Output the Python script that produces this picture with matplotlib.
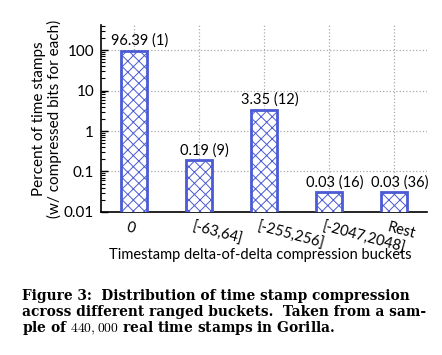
import numpy as np
import matplotlib
matplotlib.use('Agg')
import matplotlib.pyplot as plt
import matplotlib.transforms as mtransforms
from matplotlib.ticker import FixedLocator, FixedFormatter, LogLocator, NullFormatter

# data
buckets = ['0', '[-63,64]', '[-255,256]', '[-2047,2048]', 'Rest']
percent = [96.39, 0.19, 3.35, 0.03, 0.03]
bits = [1, 9, 12, 16, 36]
yticks = [0.01, 0.1, 1, 10, 100]
yticklabels = ['0.01', '0.1', '1', '10', '100']

plt.rcParams['font.family'] = ['Lato', 'DejaVu Sans']
plt.rcParams['mathtext.fontset'] = 'cm'
plt.rcParams['hatch.linewidth'] = 0.7
plt.rcParams['hatch.color'] = '#98a3e6'

edge = '#4a5bd4'

fig = plt.figure(figsize=(4.42, 3.55), dpi=100)
ax = fig.add_axes([0.2285, 0.403, 0.966 - 0.2285, 0.930 - 0.403])

x = np.arange(len(buckets))
ax.bar(x, percent, width=0.4, bottom=0.001, facecolor='white',
       edgecolor=edge, linewidth=2, hatch='xxx', zorder=3)

for xi, p, b in zip(x, percent, bits):
    ax.annotate('%.2f (%d)' % (p, b), (xi, p), xytext=(4, 2),
                textcoords='offset points', ha='center', va='bottom',
                fontsize=10.5, zorder=4)

ax.set_yscale('log')
ax.set_ylim(0.01, 420)
ax.set_xlim(-0.5, 4.5)

ax.yaxis.set_major_locator(FixedLocator(yticks))
ax.yaxis.set_major_formatter(FixedFormatter(yticklabels))
ax.yaxis.set_minor_locator(LogLocator(base=10, subs=np.arange(2, 10)))
ax.yaxis.set_minor_formatter(NullFormatter())
ax.tick_params(axis='y', which='major', direction='in', length=5, width=1,
               labelsize=11, pad=5)
ax.tick_params(axis='y', which='minor', direction='in', length=3, width=0.8)

ax.set_xticks(x)
ax.set_xticklabels(buckets, rotation=-15, ha='left', va='top',
                   rotation_mode='anchor', fontsize=10.5)
ax.tick_params(axis='x', length=0, pad=6)
shift = mtransforms.ScaledTranslation(-5 / 100, 0, fig.dpi_scale_trans)
for lbl in ax.get_xticklabels():
    lbl.set_transform(lbl.get_transform() + shift)

ax.spines['top'].set_visible(False)
ax.spines['right'].set_visible(False)
ax.spines['left'].set_linewidth(1.2)
ax.spines['bottom'].set_linewidth(1.2)

ax.grid(True, which='major', linestyle=':', color='#aaaaaa', linewidth=0.9, zorder=0)
ax.set_axisbelow(True)

ax.set_ylabel('Percent of time stamps\n(w/ compressed bits for each)',
              fontsize=11, linespacing=1.1, labelpad=1)
fig.text(260 / 442., 1 - 255 / 355., 'Timestamp delta-of-delta compression buckets',
         ha='center', va='center', fontsize=10.5)

cap = dict(family='DejaVu Serif', weight='bold', fontsize=9.9)
fig.text(22 / 442., 1 - 300 / 355., 'Figure 3:  Distribution of time stamp compression',
         va='baseline', **cap)
fig.text(22 / 442., 1 - 316 / 355., 'across different ranged buckets.  Taken from a sam-',
         va='baseline', **cap)
fig.text(22 / 442., 1 - 332 / 355., 'ple of $440,000$ real time stamps in Gorilla.',
         va='baseline', **cap)

fig.savefig('out.png', dpi=100)
